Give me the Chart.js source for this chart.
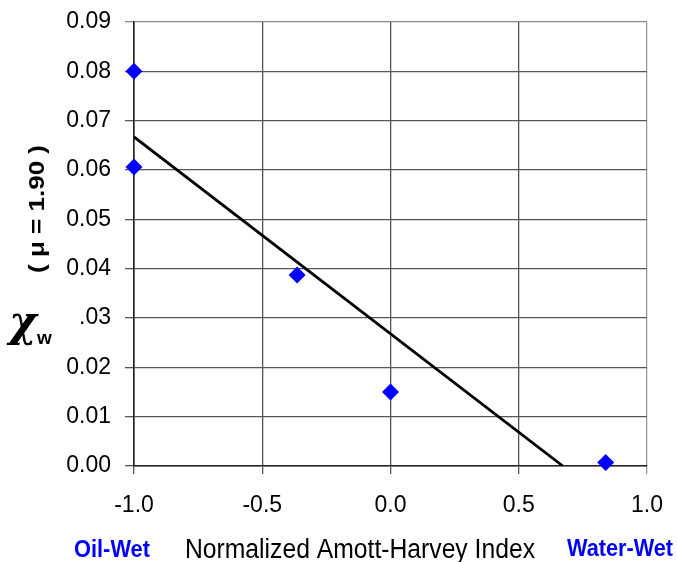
<!DOCTYPE html>
<html>
<head>
<meta charset="utf-8">
<script src="https://cdn.jsdelivr.net/npm/chart.js@4/dist/chart.umd.min.js"></script>
<style>
  html, body { margin: 0; padding: 0; background: #fff; }
  #wrap { width: 677px; height: 562px; position: relative; }
</style>
</head>
<body>
<div id="wrap"><canvas id="chiChart"></canvas></div>
<script>
// Measured points: normalized Amott-Harvey index vs chi_w
const indexValues = [-1.0, -1.0, -0.364, 0.0, 0.839];
const chiValues = [0.080, 0.0606, 0.0387, 0.0150, 0.0007];

// Straight-line fit, end points
const fitIndex = [-1.0, 0.672];
const fitChi = [0.0667, 0.0];

const xTickLabels = ['-1.0', '-0.5', '0.0', '0.5', '1.0'];
const yTickLabels = ['0.00', '0.01', '0.02', '.03', '0.04', '0.05', '0.06', '0.07', '0.08', '0.09'];

const tickFont = { family: 'Liberation Sans, Arial, sans-serif', size: 23 };

// draw text squeezed/stretched to a given width, centred on cx
function drawFitted(ctx, text, cx, cy, width, font) {
    ctx.save();
    ctx.font = font;
    const w = ctx.measureText(text).width;
    ctx.translate(cx, cy);
    ctx.scale(width / w, 1);
    ctx.textAlign = 'center';
    ctx.fillText(text, 0, 0);
    ctx.restore();
}

// Extra labels: y title, chi symbol, and the bottom captions
const labelPlugin = {
    id: 'extraLabels',
    afterDraw(chart) {
        const ctx = chart.ctx;
        ctx.save();
        ctx.fillStyle = '#000';

        // ( μ = 1.90 ) rotated
        ctx.save();
        ctx.translate(38, 209);
        ctx.rotate(-Math.PI / 2);
        ctx.textBaseline = 'middle';
        drawFitted(ctx, '( \u03bc = 1.90 )', 0, 0, 128, 'bold 22px "Liberation Sans", Arial, sans-serif');
        ctx.restore();

        // chi_w
        ctx.textBaseline = 'alphabetic';
        ctx.textAlign = 'left';
        ctx.font = 'bold italic 42px "DejaVu Serif", serif';
        ctx.fillText('\u03c7', 9, 336);
        ctx.font = 'bold 19px "Liberation Sans", Arial, sans-serif';
        ctx.fillText('w', 37, 344);

        // bottom captions
        drawFitted(ctx, 'Normalized Amott-Harvey Index', 360, 558, 350, '27px "Liberation Sans", Arial, sans-serif');

        ctx.fillStyle = '#0000ff';
        drawFitted(ctx, 'Oil-Wet', 112, 557, 76, 'bold 24px "Liberation Sans", Arial, sans-serif');
        drawFitted(ctx, 'Water-Wet', 620, 556, 106, 'bold 24px "Liberation Sans", Arial, sans-serif');
        ctx.restore();
    }
};

const ctx = document.getElementById('chiChart').getContext('2d');
const chiChart = new Chart(ctx, {
    type: 'scatter',
    data: {
        datasets: [
            {
                label: 'Measured',
                data: indexValues.map((x, i) => ({ x: x, y: chiValues[i] })),
                pointStyle: 'rectRot',
                pointRadius: 8.5,
                pointHoverRadius: 8.5,
                backgroundColor: '#0000ff',
                borderColor: '#0000ff',
                borderWidth: 0,
                clip: false,
                order: 1
            },
            {
                label: 'Fit',
                type: 'line',
                data: fitIndex.map((x, i) => ({ x: x, y: fitChi[i] })),
                borderColor: '#000',
                borderWidth: 2.8,
                pointRadius: 0,
                fill: false,
                order: 2
            }
        ]
    },
    options: {
        responsive: true,
        maintainAspectRatio: false,
        animation: false,
        layout: { padding: { left: 0, right: 30, top: 22, bottom: 0 } },
        plugins: {
            legend: { display: false },
            tooltip: { enabled: false }
        },
        scales: {
            x: {
                type: 'linear',
                min: -1,
                max: 1,
                afterFit(scale) {
                    scale.height = 96;
                    scale.paddingLeft = 0;
                    scale.paddingRight = 0;
                },
                ticks: {
                    stepSize: 0.5,
                    font: tickFont,
                    color: '#000',
                    padding: 18,
                    maxRotation: 0,
                    callback: (v, i) => xTickLabels[i]
                },
                grid: {
                    color: ctx => ctx.index === xTickLabels.length - 1 ? '#999' : '#555',
                    lineWidth: 1.3,
                    tickLength: 8
                },
                border: { color: '#222', width: 1.6 }
            },
            y: {
                type: 'linear',
                min: 0,
                max: 0.09,
                afterFit(scale) {
                    scale.width = 134;
                    scale.paddingTop = 0;
                    scale.paddingBottom = 0;
                },
                ticks: {
                    stepSize: 0.01,
                    font: tickFont,
                    color: '#000',
                    padding: 14,
                    callback: (v, i) => yTickLabels[i]
                },
                grid: {
                    color: ctx => ctx.index === yTickLabels.length - 1 ? '#888' : '#555',
                    lineWidth: 1.3,
                    tickLength: 9
                },
                border: { color: '#222', width: 1.6 }
            }
        }
    },
    plugins: [labelPlugin]
});
</script>
</body>
</html>
